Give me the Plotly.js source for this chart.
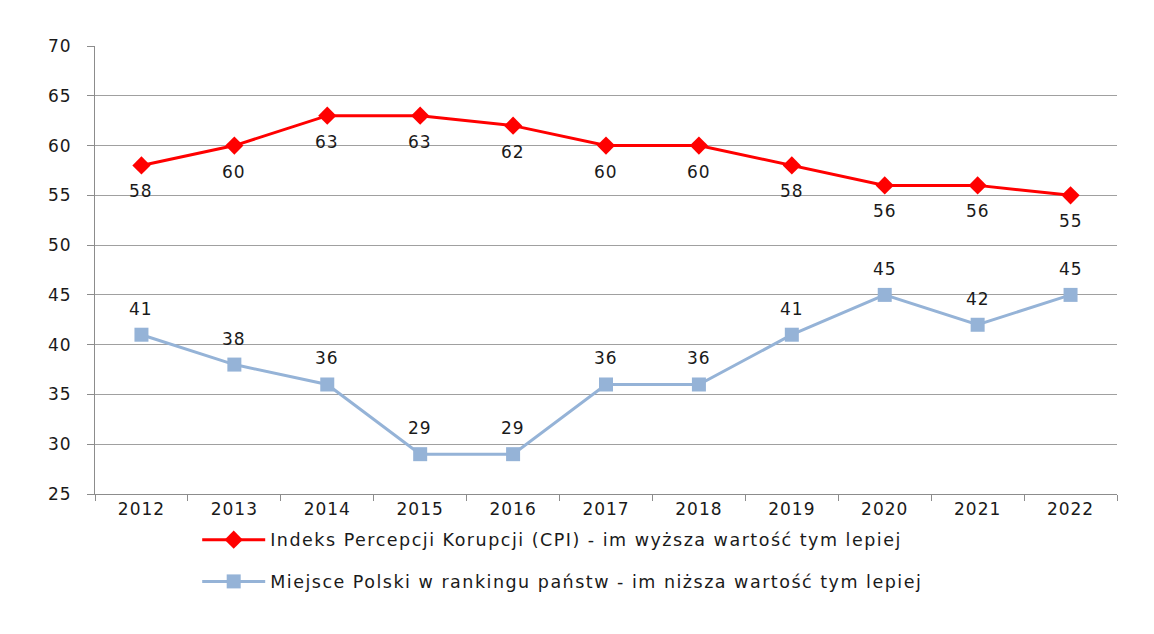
<!DOCTYPE html>
<html>
<head>
<meta charset="utf-8">
<script src="https://cdn.plot.ly/plotly-3.0.1.min.js"></script>
<style>
html,body{margin:0;padding:0;background:#fff;}
#chart{width:1154px;height:634px;}
#chart .xtick text, #chart .ytick text, #chart .annotation-text{letter-spacing:1px;}
#chart .legendtext{letter-spacing:1.5px;}
#chart .legend .scrollbox{clip-path:none !important;}
</style>
</head>
<body>
<div id="chart"></div>
<script>
const years = ["2012","2013","2014","2015","2016","2017","2018","2019","2020","2021","2022"];
const cpiValues = [58,60,63,63,62,60,60,58,56,56,55];
const rankValues = [41,38,36,29,29,36,36,41,45,42,45];
const cpiName = "Indeks Percepcji Korupcji (CPI) - im wyższa wartość tym lepiej";
const rankName = "Miejsce Polski w rankingu państw - im niższa wartość tym lepiej";

const FONT = "DejaVu Sans, Open Sans, sans-serif";
function txt(size) { return {family: FONT, size: size, color: "#1a1a1a"}; }
const traces = [
  {
    x: years, y: cpiValues, name: cpiName, type: "scatter", mode: "lines+markers",
    line: {color: "#ff0000", width: 3},
    marker: {symbol: "diamond", size: 14, color: "#ff0000"},
    legendgroup: "a", cliponaxis: false
  },
  {
    x: years, y: rankValues, name: rankName, type: "scatter", mode: "lines+markers",
    line: {color: "#95b3d7", width: 3},
    marker: {symbol: "square", size: 14, color: "#95b3d7"},
    legendgroup: "b", cliponaxis: false
  }
];
const annotations = [];
for (let i = 0; i < years.length; i++) {
  annotations.push({xref: "x", yref: "y", x: i, y: cpiValues[i], text: String(cpiValues[i]),
    showarrow: false, yshift: -26, font: txt(17), xanchor: "center", yanchor: "middle"});
  annotations.push({xref: "x", yref: "y", x: i, y: rankValues[i], text: String(rankValues[i]),
    showarrow: false, yshift: 26, font: txt(17), xanchor: "center", yanchor: "middle"});
}
const layout = {
  width: 1154, height: 634,
  margin: {l: 95, r: 37, t: 46, b: 140},
  paper_bgcolor: "#fff", plot_bgcolor: "#fff",
  font: txt(17),
  showlegend: true,
  annotations: annotations,
  legend: {
    orientation: "v", x: 0.1, xanchor: "left",
    yref: "container", y: 0.177, yanchor: "top",
    traceorder: "grouped", tracegroupgap: 16, itemwidth: 63,
    bgcolor: "rgba(0,0,0,0)",
    font: txt(17.5)
  },
  xaxis: {
    type: "category", range: [-0.5, 10.5],
    showline: true, linecolor: "#8c8c8c", linewidth: 1,
    ticks: "outside", tickson: "boundaries", ticklen: 6, tickcolor: "#8c8c8c",
    showgrid: false, tickfont: txt(17)
  },
  yaxis: {
    range: [25, 70], dtick: 5, tick0: 25,
    showline: true, linecolor: "#8c8c8c", linewidth: 1,
    ticks: "outside", ticklen: 7, tickcolor: "#8c8c8c",
    showgrid: true, gridcolor: "#a0a0a0", gridwidth: 1,
    zeroline: false, tickfont: txt(17),
    ticklabelstandoff: 12
  }
};
Plotly.newPlot("chart", traces, layout, {displayModeBar: false, staticPlot: true});
</script>
</body>
</html>
